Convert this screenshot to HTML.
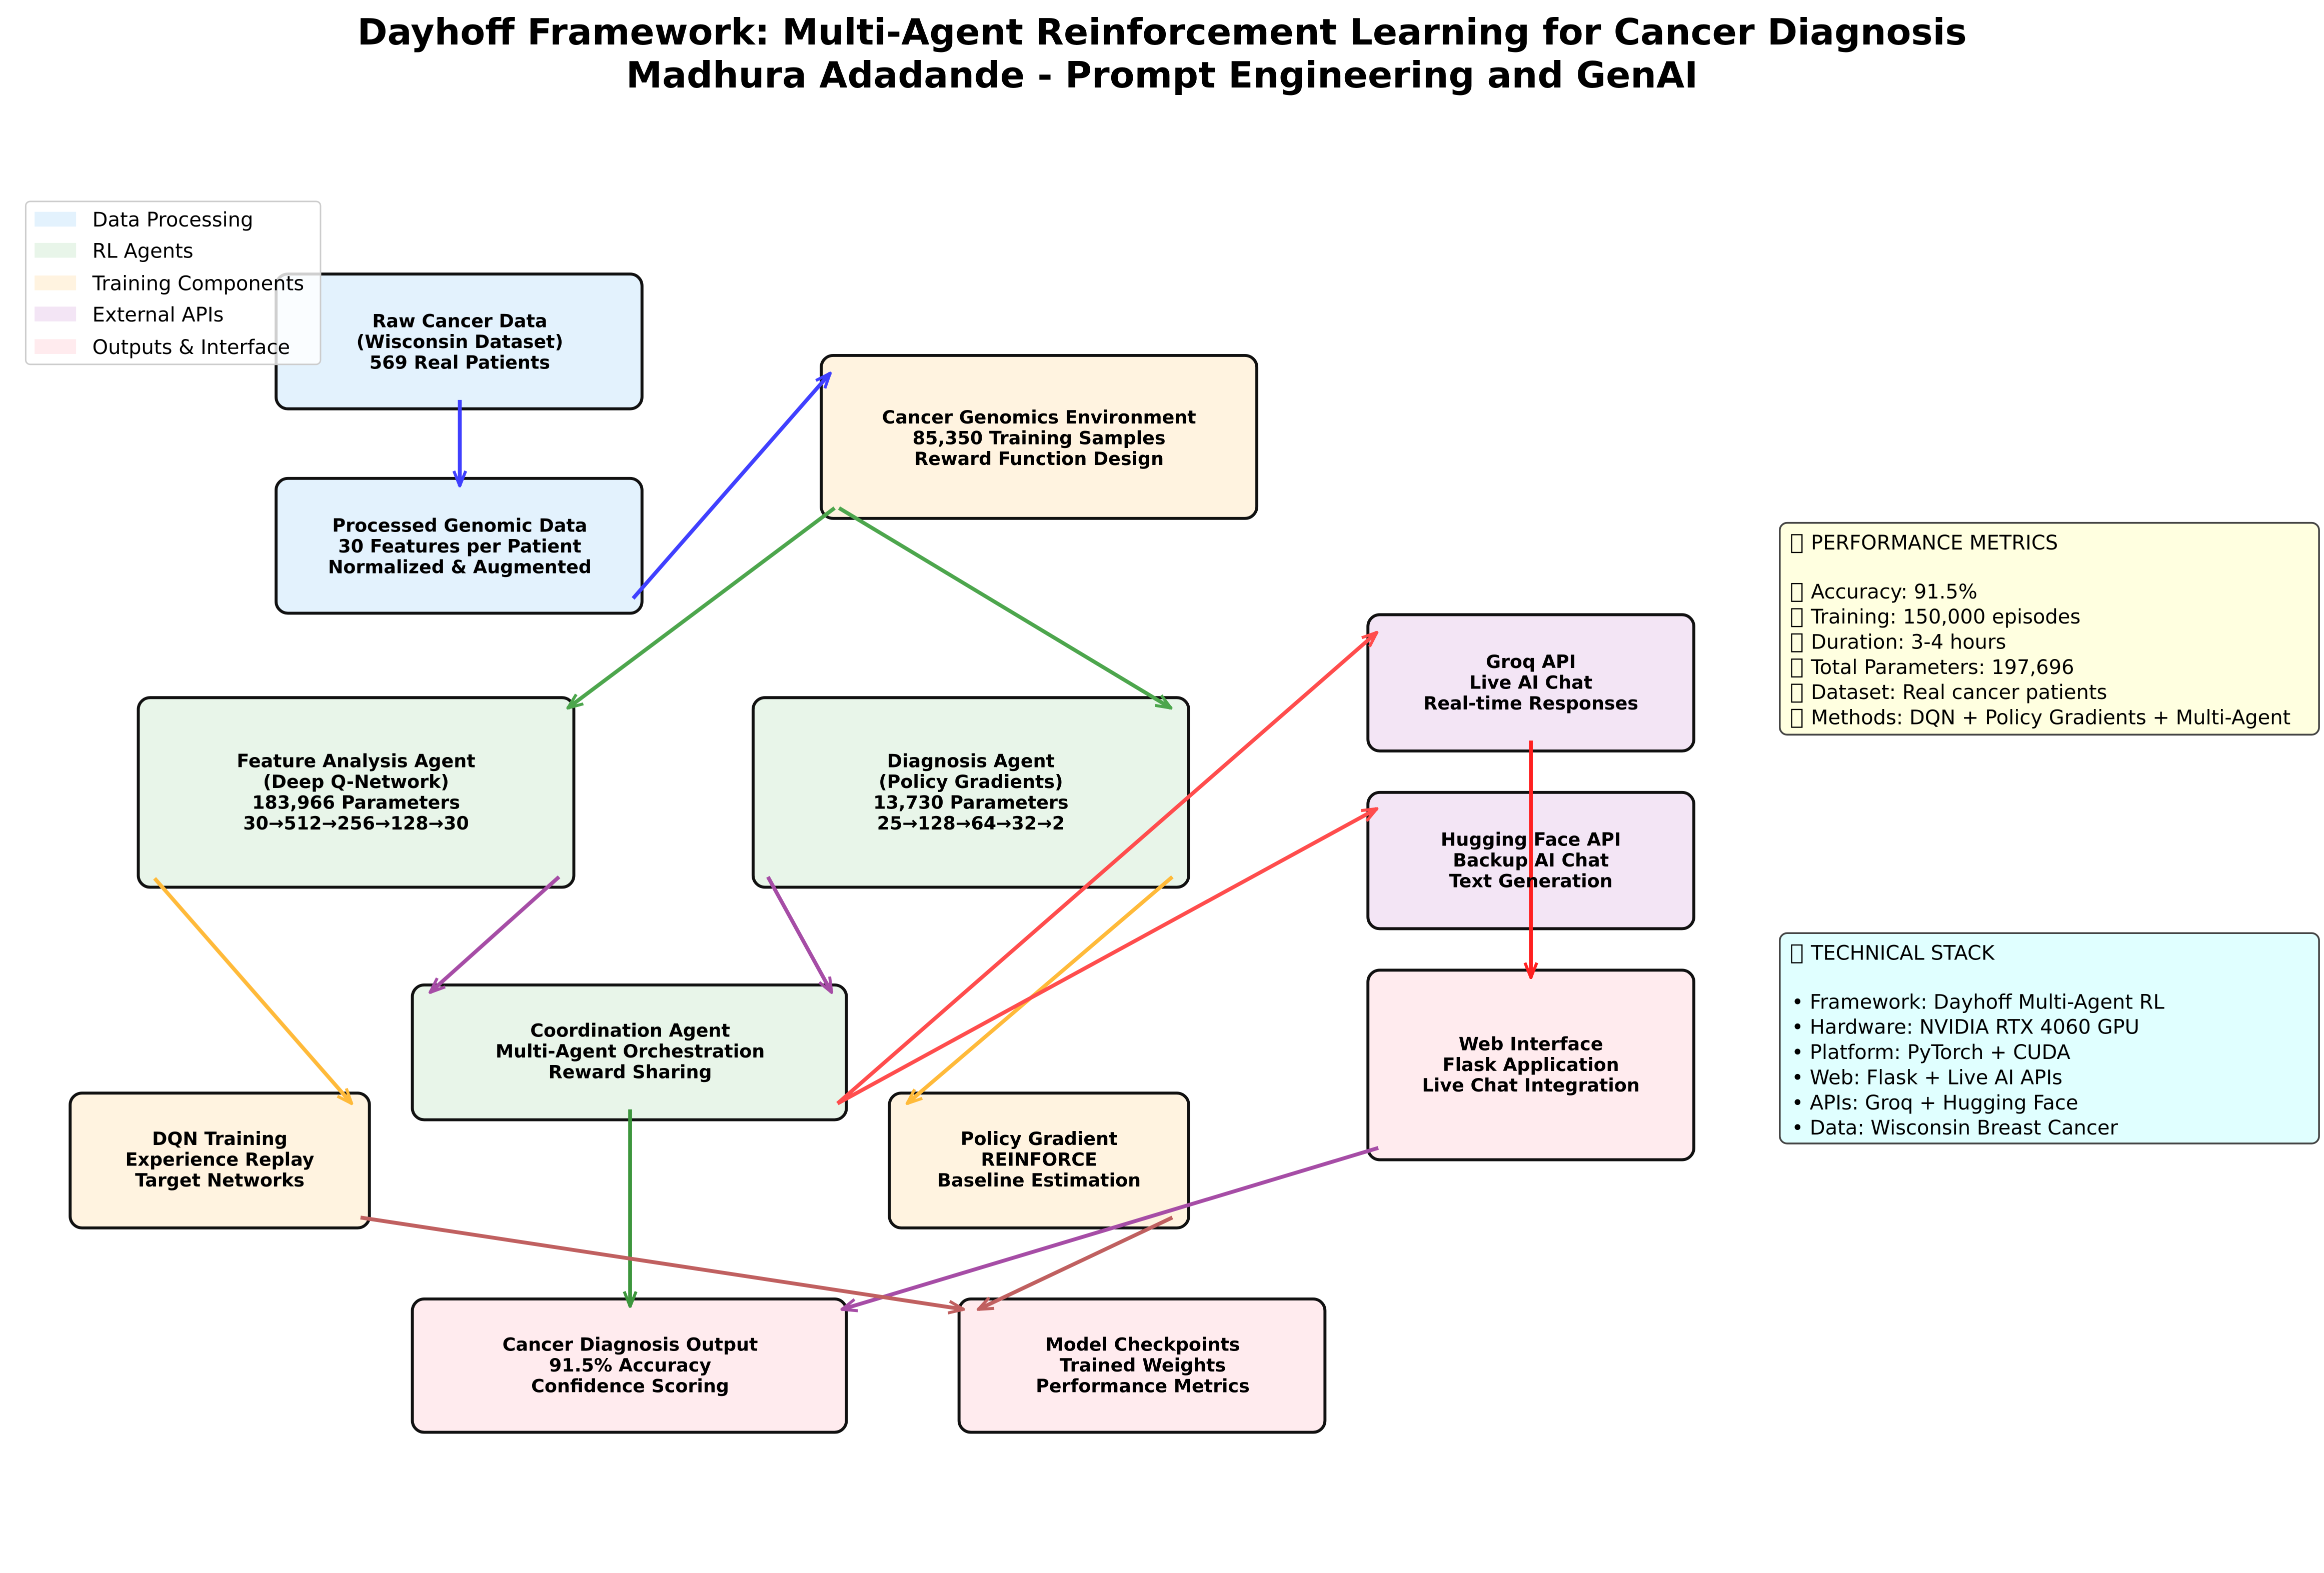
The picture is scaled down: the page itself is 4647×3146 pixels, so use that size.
<!DOCTYPE html>
<html><head><meta charset="utf-8"><style>
html,body{margin:0;padding:0;background:#fff;}
svg{display:block;}
text{font-family:"DejaVu Sans","Liberation Sans",sans-serif;}
.b{font-weight:bold;font-size:12.3px;text-anchor:middle;fill:#000;}
.n{font-size:13.5px;fill:#000;}
</style></head><body>
<svg width="4647" height="3146" viewBox="0 0 1568 1062" xmlns="http://www.w3.org/2000/svg">
<defs>
<marker id="ah" viewBox="0 0 12 12" refX="11" refY="6" markerWidth="12" markerHeight="12" markerUnits="userSpaceOnUse" orient="auto">
<polyline points="1,2 11,6 1,10" fill="none" stroke="context-stroke" stroke-width="2"/>
</marker>
</defs>
<rect width="1568" height="1062" fill="#fff"/>
<text x="784" y="30" text-anchor="middle" font-weight="bold" font-size="24.5">Dayhoff Framework: Multi-Agent Reinforcement Learning for Cancer Diagnosis</text>
<text x="784" y="59" text-anchor="middle" font-weight="bold" font-size="24.5">Madhura Adadande - Prompt Engineering and GenAI</text>

<g stroke="#111" stroke-width="2">
<rect x="186" y="185" width="247" height="91" rx="8" fill="#e3f2fd"/>
<rect x="186" y="323" width="247" height="91" rx="8" fill="#e3f2fd"/>
<rect x="554" y="240" width="294" height="110" rx="8" fill="#fff3e0"/>
<rect x="93" y="471" width="294" height="128" rx="8" fill="#e8f5e9"/>
<rect x="508" y="471" width="294" height="128" rx="8" fill="#e8f5e9"/>
<rect x="923" y="415" width="220" height="92" rx="8" fill="#f3e5f5"/>
<rect x="923" y="535" width="220" height="92" rx="8" fill="#f3e5f5"/>
<rect x="923" y="655" width="220" height="128" rx="8" fill="#ffebee"/>
<rect x="278" y="665" width="293" height="91" rx="8" fill="#e8f5e9"/>
<rect x="47" y="738" width="202" height="91" rx="8" fill="#fff3e0"/>
<rect x="600" y="738" width="202" height="91" rx="8" fill="#fff3e0"/>
<rect x="278" y="877" width="293" height="90" rx="8" fill="#ffebee"/>
<rect x="647" y="877" width="247" height="90" rx="8" fill="#ffebee"/>
</g>
<g stroke="#444" stroke-width="1.2">
<rect x="1201" y="353" width="364" height="143" rx="5" fill="#ffffe0"/>
<rect x="1201" y="630" width="364" height="142" rx="5" fill="#e0ffff"/>
</g>

<g fill="none" stroke-width="2.6" marker-end="url(#ah)">
<line x1="310" y1="270" x2="310" y2="328" stroke="#4040ff"/>
<line x1="427" y1="404" x2="560" y2="252" stroke="#4040ff"/>
<line x1="563" y1="343" x2="383" y2="478" stroke="#4da64d"/>
<line x1="566" y1="343" x2="790" y2="478" stroke="#4da64d"/>
<line x1="377" y1="592" x2="290" y2="670" stroke="#a64da6"/>
<line x1="518" y1="592" x2="561" y2="670" stroke="#a64da6"/>
<line x1="104" y1="593" x2="237" y2="745" stroke="#ffba3a"/>
<line x1="791" y1="592" x2="612" y2="745" stroke="#ffba3a"/>
<line x1="565" y1="745" x2="929" y2="427" stroke="#ff4d4d"/>
<line x1="565" y1="745" x2="929" y2="546" stroke="#ff4d4d"/>
<line x1="1033" y1="500" x2="1033" y2="660" stroke="#ff2020"/>
<line x1="425" y1="749" x2="425" y2="882" stroke="#3d963d"/>
<line x1="930" y1="775" x2="568" y2="884" stroke="#a64da6"/>
<line x1="243" y1="822" x2="650" y2="884" stroke="#c06060"/>
<line x1="791" y1="822" x2="660" y2="884" stroke="#c06060"/>
</g>

<text class="b"><tspan x="310" y="221">Raw Cancer Data</tspan><tspan x="310" y="235">(Wisconsin Dataset)</tspan><tspan x="310" y="249">569 Real Patients</tspan></text>
<text class="b"><tspan x="310" y="359">Processed Genomic Data</tspan><tspan x="310" y="373">30 Features per Patient</tspan><tspan x="310" y="387">Normalized &amp; Augmented</tspan></text>
<text class="b"><tspan x="701" y="286">Cancer Genomics Environment</tspan><tspan x="701" y="300">85,350 Training Samples</tspan><tspan x="701" y="314">Reward Function Design</tspan></text>
<text class="b"><tspan x="240" y="518">Feature Analysis Agent</tspan><tspan x="240" y="532">(Deep Q-Network)</tspan><tspan x="240" y="546">183,966 Parameters</tspan><tspan x="240" y="560">30→512→256→128→30</tspan></text>
<text class="b"><tspan x="655" y="518">Diagnosis Agent</tspan><tspan x="655" y="532">(Policy Gradients)</tspan><tspan x="655" y="546">13,730 Parameters</tspan><tspan x="655" y="560">25→128→64→32→2</tspan></text>
<text class="b"><tspan x="1033" y="451">Groq API</tspan><tspan x="1033" y="465">Live AI Chat</tspan><tspan x="1033" y="479">Real-time Responses</tspan></text>
<text class="b"><tspan x="1033" y="571">Hugging Face API</tspan><tspan x="1033" y="585">Backup AI Chat</tspan><tspan x="1033" y="599">Text Generation</tspan></text>
<text class="b"><tspan x="1033" y="709">Web Interface</tspan><tspan x="1033" y="723">Flask Application</tspan><tspan x="1033" y="737">Live Chat Integration</tspan></text>
<text class="b"><tspan x="425" y="700">Coordination Agent</tspan><tspan x="425" y="714">Multi-Agent Orchestration</tspan><tspan x="425" y="728">Reward Sharing</tspan></text>
<text class="b"><tspan x="148" y="773">DQN Training</tspan><tspan x="148" y="787">Experience Replay</tspan><tspan x="148" y="801">Target Networks</tspan></text>
<text class="b"><tspan x="701" y="773">Policy Gradient</tspan><tspan x="701" y="787">REINFORCE</tspan><tspan x="701" y="801">Baseline Estimation</tspan></text>
<text class="b"><tspan x="425" y="912">Cancer Diagnosis Output</tspan><tspan x="425" y="926">91.5% Accuracy</tspan><tspan x="425" y="940">Confidence Scoring</tspan></text>
<text class="b"><tspan x="771" y="912">Model Checkpoints</tspan><tspan x="771" y="926">Trained Weights</tspan><tspan x="771" y="940">Performance Metrics</tspan></text>

<text class="n"><tspan x="1222" y="371">PERFORMANCE METRICS</tspan><tspan x="1222" y="404">Accuracy: 91.5%</tspan><tspan x="1222" y="421">Training: 150,000 episodes</tspan><tspan x="1222" y="438">Duration: 3-4 hours</tspan><tspan x="1222" y="455">Total Parameters: 197,696</tspan><tspan x="1222" y="472">Dataset: Real cancer patients</tspan><tspan x="1222" y="489">Methods: DQN + Policy Gradients + Multi-Agent</tspan></text>
<g fill="none" stroke="#000" stroke-width="0.8">
<rect x="1209" y="361" width="7" height="12"/><rect x="1209" y="394" width="7" height="12"/><rect x="1209" y="411" width="7" height="12"/><rect x="1209" y="428" width="7" height="12"/><rect x="1209" y="445" width="7" height="12"/><rect x="1209" y="462" width="7" height="12"/><rect x="1209" y="479" width="7" height="12"/>
<rect x="1209" y="638" width="7" height="12"/>
</g>
<text class="n"><tspan x="1222" y="648">TECHNICAL STACK</tspan><tspan x="1209" y="681">• Framework: Dayhoff Multi-Agent RL</tspan><tspan x="1209" y="698">• Hardware: NVIDIA RTX 4060 GPU</tspan><tspan x="1209" y="715">• Platform: PyTorch + CUDA</tspan><tspan x="1209" y="732">• Web: Flask + Live AI APIs</tspan><tspan x="1209" y="749">• APIs: Groq + Hugging Face</tspan><tspan x="1209" y="766">• Data: Wisconsin Breast Cancer</tspan></text>

<rect x="17" y="136" width="199" height="110" rx="3" fill="#fff" fill-opacity="0.8" stroke="#ccc" stroke-width="1"/>
<rect x="23" y="143" width="28" height="10" fill="#e3f2fd"/>
<rect x="23" y="164" width="28" height="10" fill="#e8f5e9"/>
<rect x="23" y="186" width="28" height="10" fill="#fff3e0"/>
<rect x="23" y="207" width="28" height="10" fill="#f3e5f5"/>
<rect x="23" y="229" width="28" height="10" fill="#ffebee"/>
<text class="n"><tspan x="62" y="153">Data Processing</tspan><tspan x="62" y="174">RL Agents</tspan><tspan x="62" y="196">Training Components</tspan><tspan x="62" y="217">External APIs</tspan><tspan x="62" y="239">Outputs &amp; Interface</tspan></text>
</svg>
</body></html>
